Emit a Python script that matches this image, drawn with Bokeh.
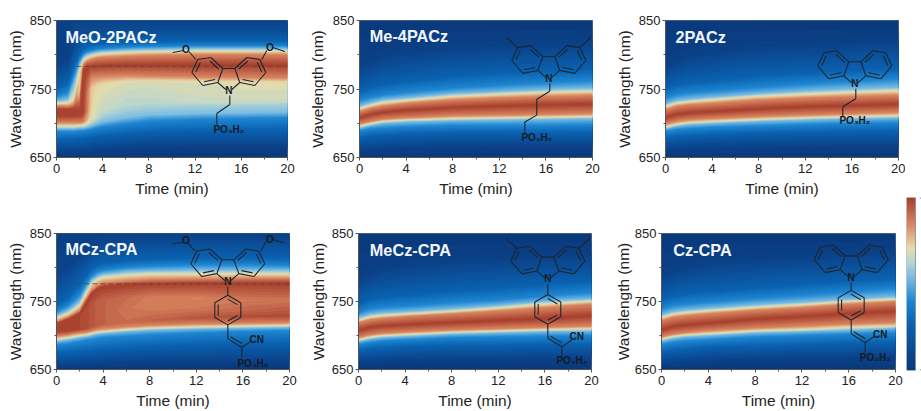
import numpy as np
from bokeh.plotting import figure
from bokeh.layouts import row, column
from bokeh.models import Label, FixedTicker, Range1d, LinearColorMapper
from bokeh.embed import file_html
from bokeh.resources import INLINE

# ---- colour scale ----
CMAP_POS = [0.0, 0.12, 0.27, 0.40, 0.54, 0.63, 0.71, 0.85, 1.0]
CMAP_HEX = ["#0a387c", "#0b4a93", "#0a62b0", "#1e86d2", "#7cbde2", "#b8d6d0", "#e8dcaa", "#d8835f", "#a63e2c"]

# ---- axes ----
X_TICKS = [0, 4, 8, 12, 16, 20]
X_MINOR = [2, 6, 10, 14, 18]
Y_TICKS = [650, 750, 850]
Y_MINOR = [700, 800]

# ---- each table row: wavelength (nm) at which the colour reaches a level, per time ----
TIMES_SIMPLE = [0, 1, 2, 4, 8, 12, 16, 20]
LEVELS_SIMPLE = [0.0, 0.05, 0.27, 0.40, 0.54, 0.71, 0.85, 1.0, 0.85, 0.71, 0.54, 0.40, 0.27, 0.05, 0.0]

ME4PACZ = [
    [650] * 8,
    [660, 661, 662, 663, 664, 665, 665, 665],
    [679, 682, 683, 685, 686, 686, 686, 686],
    [689, 692, 693, 695, 697, 697, 697, 698],
    [693, 697, 700, 702, 704, 705, 706, 707],
    [696, 700, 703, 705, 707, 708, 709, 710],
    [699, 703, 706, 708, 711, 712, 713, 714],
    [708, 713, 716, 719, 723, 725, 727, 728],
    [717, 722, 725, 729, 734, 737, 739, 741],
    [721, 726, 730, 733, 739, 742, 745, 746],
    [725, 730, 734, 737, 743, 746, 749, 751],
    [733, 738, 741, 745, 751, 755, 759, 762],
    [746, 752, 756, 761, 768, 773, 776, 779],
    [785, 791, 800, 807, 812, 815, 818, 820],
    [850] * 8,
]
PACZ2 = [
    [650] * 8,
    [660, 661, 662, 663, 664, 665, 666, 666],
    [678, 681, 682, 684, 686, 687, 688, 689],
    [688, 691, 692, 694, 696, 698, 700, 701],
    [692, 696, 698, 700, 703, 705, 707, 708],
    [695, 699, 701, 703, 706, 708, 710, 711],
    [699, 703, 705, 707, 710, 712, 714, 716],
    [708, 713, 715, 717, 721, 724, 726, 728],
    [720, 725, 727, 729, 734, 737, 739, 741],
    [724, 729, 731, 734, 739, 742, 745, 747],
    [728, 733, 735, 738, 743, 747, 750, 752],
    [737, 742, 744, 747, 752, 757, 761, 765],
    [750, 756, 759, 762, 769, 773, 777, 780],
    [785, 793, 800, 807, 814, 816, 820, 822],
    [850] * 8,
]
MECZ_CPA = [
    [650] * 8,
    [660, 661, 662, 663, 664, 664, 665, 665],
    [678, 681, 682, 684, 686, 686, 687, 687],
    [687, 690, 692, 694, 697, 698, 699, 700],
    [691, 695, 697, 699, 702, 704, 706, 707],
    [694, 698, 700, 702, 705, 707, 709, 710],
    [697, 701, 703, 705, 708, 710, 712, 714],
    [707, 712, 714, 716, 719, 722, 725, 729],
    [719, 723, 725, 728, 732, 736, 741, 746],
    [722, 727, 729, 731, 735, 740, 746, 750],
    [726, 731, 733, 735, 739, 744, 750, 754],
    [733, 739, 741, 743, 748, 752, 758, 763],
    [745, 753, 756, 759, 765, 770, 775, 780],
    [785, 793, 800, 805, 812, 815, 818, 820],
    [850] * 8,
]
CZ_CPA = [
    [650] * 8,
    [658, 659, 660, 662, 664, 665, 666, 667],
    [676, 679, 680, 683, 685, 687, 689, 690],
    [687, 690, 692, 694, 698, 700, 702, 704],
    [692, 696, 698, 700, 704, 706, 708, 711],
    [695, 699, 701, 703, 707, 709, 712, 714],
    [698, 702, 704, 707, 711, 714, 717, 719],
    [708, 713, 715, 718, 724, 728, 732, 736],
    [722, 727, 729, 732, 737, 741, 746, 750],
    [726, 731, 733, 736, 741, 745, 750, 753],
    [730, 735, 737, 740, 745, 749, 753, 757],
    [739, 744, 746, 749, 754, 759, 764, 769],
    [752, 758, 761, 764, 770, 775, 780, 785],
    [790, 797, 802, 809, 815, 818, 822, 825],
    [850] * 8,
]

TIMES_MEO = [0, 1, 1.5, 2, 2.3, 2.6, 3, 3.5, 4, 6, 8, 12, 16, 20]
MEO_2PACZ = [
    [650] * 14,
    [657, 657, 657, 658, 658, 658, 659, 660, 661, 663, 664, 665, 665, 665],
    [676, 677, 677, 678, 678, 679, 680, 681, 682, 685, 687, 689, 690, 690],
    [688, 688, 688, 689, 689, 690, 691, 693, 695, 699, 703, 706, 707, 708],
    [692, 692, 692, 693, 693, 694, 696, 699, 702, 708, 712, 714, 715, 716],
    [696, 696, 696, 697, 697, 699, 703, 708, 712, 719, 723, 725, 726, 727],
    [701, 701, 701, 701, 702, 705, 711, 716, 720, 726, 728, 730, 731, 731],
    [711, 711, 711, 712, 714, 718, 724, 728, 732, 738, 740, 742, 743, 743],
    [716, 716, 716, 717, 730, 745, 752, 755, 757, 760, 760, 760, 760, 760],
    [718, 718, 718, 725, 752, 763, 767, 768, 769, 770, 769, 768, 767, 766],
    [720, 720, 721, 745, 776, 782, 783, 784, 784, 785, 785, 785, 785, 785],
    [725, 725, 727, 770, 785, 790, 793, 795, 796, 798, 799, 800, 800, 800],
    [729, 729, 735, 777, 790, 795, 798, 800, 801, 803, 804, 805, 805, 805],
    [732, 735, 757, 786, 796, 800, 802, 804, 805, 807, 808, 809, 809, 809],
    [739, 745, 770, 793, 800, 804, 806, 808, 809, 811, 812, 813, 813, 813],
    [750, 760, 782, 802, 808, 811, 813, 815, 816, 818, 819, 820, 820, 820],
    [788, 795, 815, 825, 830, 832, 834, 835, 835, 836, 838, 838, 838, 838],
    [850] * 14,
]
MEO_2PACZ_LEVELS = [
    [0.0] * 14,
    [0.05] * 14,
    [0.27] * 14,
    [0.40] * 14,
    [0.54] * 14,
    [.71, .71, .71, .71, .71, .71, .68, .65, .62, .60, .60, .60, .60, .60],
    [.85, .85, .85, .85, .85, .80, .72, .68, .66, .63, .63, .65, .66, .66],
    [1, 1, 1, 1, 1, .88, .73, .69, .67, .65, .65, .67, .68, .68],
    [1, 1, 1, 1, 1, .90, .75, .72, .71, .69, .68, .69, .70, .70],
    [1, 1, 1, .95, 1, .95, .85, .85, .85, .85, .85, .85, .85, .85],
    [1, 1, 1, .75, 1, 1, 1, 1, 1, 1, 1, 1, 1, 1],
    [.85, .85, .85, .72, .85, .85, .85, .85, .85, .85, .85, .85, .85, .85],
    [0.71] * 14,
    [0.54] * 14,
    [0.40] * 14,
    [0.27] * 14,
    [.05, .05, .10, .12, .12, .12, .12, .12, .12, .12, .12, .12, .12, .12],
    [.05, .05, .08, .08, .08, .08, .08, .08, .08, .08, .08, .08, .08, .08],
]

TIMES_MCZ = [0, 1, 1.5, 2, 2.5, 3, 3.5, 4, 6, 8, 12, 16, 20]
MCZ_CPA = [
    [650] * 13,
    [654, 655, 655, 656, 656, 657, 657, 658, 659, 660, 660, 660, 660],
    [674, 675, 676, 677, 677, 678, 679, 680, 682, 684, 687, 688, 689],
    [686, 688, 690, 691, 693, 694, 696, 697, 699, 701, 704, 706, 707],
    [691, 694, 695, 697, 698, 700, 702, 703, 706, 708, 710, 711, 712],
    [695, 697, 699, 700, 701, 703, 705, 706, 709, 711, 713, 714, 715],
    [699, 701, 703, 704, 705, 707, 709, 710, 713, 715, 717, 718, 719],
    [706, 707, 708, 709, 710, 712, 714, 716, 719, 722, 726, 728, 728],
    [712, 715, 717, 720, 724, 728, 732, 735, 740, 742, 738, 735, 735],
    [716, 721, 724, 728, 735, 745, 750, 752, 756, 757, 755, 752, 752],
    [718, 724, 728, 733, 748, 762, 769, 772, 775, 776, 777, 777, 777],
    [720, 727, 732, 737, 752, 766, 773, 777, 780, 782, 783, 784, 784],
    [725, 732, 737, 744, 760, 775, 782, 785, 788, 790, 790, 790, 790],
    [729, 737, 743, 750, 767, 781, 787, 790, 794, 795, 796, 796, 796],
    [735, 744, 752, 760, 775, 787, 793, 796, 800, 802, 804, 804, 803],
    [745, 756, 766, 775, 787, 797, 803, 806, 810, 812, 814, 814, 814],
    [790, 800, 808, 815, 823, 830, 835, 838, 842, 845, 845, 845, 845],
    [850] * 13,
]
MCZ_CPA_LEVELS = [
    [0.0] * 13,
    [0.05] * 13,
    [0.27] * 13,
    [0.40] * 13,
    [0.54] * 13,
    [0.71] * 13,
    [0.85] * 13,
    [1, 1, 1, .98, .97, .95, .93, .92, .90, .92, .95, .97, .97],
    [1, 1, 1, .98, .97, .95, .93, .92, .88, .86, .88, .92, .95],
    [1, 1, 1, .98, .97, .95, .93, .92, .90, .87, .85, .87, .88],
    [1] * 13,
    [0.85] * 13,
    [0.71] * 13,
    [0.54] * 13,
    [0.40] * 13,
    [0.27] * 13,
    [0.08] * 13,
    [0.05] * 13,
]

# ---- labels ----
NAMES = ["MeO-2PACz", "Me-4PACz", "2PACz", "MCz-CPA", "MeCz-CPA", "Cz-CPA"]
DASH_WAVELENGTH = {"MeO-2PACz": 783, "MCz-CPA": 776}
DASH_START = 1.7


# ---- molecule sketches: pixel offsets from the carbazole N ----
RING_L = [(-11, -8), (-6, -22), (-18, -33), (-31, -31), (-37, -18), (-26, -5)]
RING_R = [(-x, y) for x, y in RING_L]


def hexagon(cx, cy, r):
    return [(cx + r * np.sin(k * np.pi / 3), cy - r * np.cos(k * np.pi / 3)) for k in range(6)]


def ring_segments(pts, pairs=(1, 3, 5)):
    cx = sum(p[0] for p in pts) / 6
    cy = sum(p[1] for p in pts) / 6
    segs = []
    for i in range(6):
        segs.append([pts[i], pts[(i + 1) % 6]])
    for i in pairs:
        a, b = pts[i], pts[(i + 1) % 6]
        f = 0.74
        ia = (cx + (a[0] - cx) * f, cy + (a[1] - cy) * f)
        ib = (cx + (b[0] - cx) * f, cy + (b[1] - cy) * f)
        segs.append([ia, ib])
    return segs


def carbazole():
    s = ring_segments(RING_L, (1, 3, 5)) + ring_segments(RING_R, (1, 3, 5))
    s += [[(-11, -8), (-3, -1)], [(11, -8), (3, -1)], [(-6, -22), (6, -22)]]
    return s


def phenyl_link(cy, r=15):
    s = [[(0, 5), (0, cy - r)]]
    s += ring_segments(hexagon(0, cy, r), (0, 2, 4))
    s += [[(0, cy + r), (0, cy + r + 14)], [(0, cy + r + 14), (14, cy + r + 23)],
          [(2.5, cy + r + 12), (14, cy + r + 19)],
          [(14, cy + r + 23), (24, cy + r + 16)], [(14, cy + r + 23), (14, cy + r + 33)]]
    return s


OME = [[(-33, -31), (-40, -39)], [(-45, -40), (-56, -38)], [(33, -31), (38, -40)], [(44, -43), (56, -39)]]
ME = [[(-31, -31), (-42, -41)], [(31, -31), (42, -41)]]

MOLECULES = {
    "MeO-2PACz": dict(n=(228.3, 90), segs=carbazole() + OME + [[(1, 5), (1, 14)], [(1, 14), (-12, 23)], [(-12, 23), (-12, 34)]],
                      texts=[("O", -43, -41), ("O", 41, -43), ("PO\u2083H\u2082", 0, 39)]),
    "Me-4PACz": dict(n=(548.3, 77.3), segs=carbazole() + ME + [[(1, 5), (1, 13)], [(1, 13), (-12, 21)], [(-12, 21), (-12, 37)], [(-12, 37), (-24, 44)], [(-24, 44), (-24, 55)]],
                     texts=[("PO\u2083H\u2082", -12, 60)]),
    "2PACz": dict(n=(854.3, 83.3), segs=carbazole() + [[(1, 5), (1, 15)], [(1, 15), (-12, 23)], [(-12, 23), (-12, 33)]],
                  texts=[("PO\u2083H\u2082", 0, 37)]),
    "MCz-CPA": dict(n=(227.3, 281.7), segs=carbazole() + OME + phenyl_link(29),
                    texts=[("O", -42, -42), ("O", 42, -43), ("CN", 29, 59), ("PO\u2083H\u2082", 25, 83)]),
    "MeCz-CPA": dict(n=(547.3, 279), segs=carbazole() + ME + phenyl_link(31),
                     texts=[("CN", 29, 59), ("PO\u2083H\u2082", 24, 83)]),
    "Cz-CPA": dict(n=(850.7, 275.7), segs=carbazole() + phenyl_link(28),
                   texts=[("CN", 29, 58), ("PO\u2083H\u2082", 24, 81)]),
}

N_BANDS = 48
TOP = 1.0005
LOWER = np.linspace(0, TOP, N_BANDS + 1)[:-1]
mids = LOWER + TOP / N_BANDS / 2


def to_hex(t):
    rgb = [int(CMAP_HEX[i][j:j + 2], 16) for i in range(len(CMAP_HEX)) for j in (1, 3, 5)]
    rgb = np.array(rgb).reshape(-1, 3)
    out = [np.interp(t, CMAP_POS, rgb[:, k]) for k in range(3)]
    return "#%02x%02x%02x" % tuple(int(round(v)) for v in out)


PALETTE = [to_hex(m) for m in mids]
FONT = "Liberation Sans"


def panel(name, times, table, levels, w, h, left, top, right, bottom, ystand):
    fw, fh = w - left - right, h - top - bottom
    p = figure(width=w, height=h, output_backend="svg", toolbar_location=None,
               x_range=Range1d(0, 20), y_range=Range1d(650, 850),
               min_border_left=left, min_border_right=right, min_border_top=top, min_border_bottom=bottom,
               x_axis_label="Time (min)", y_axis_label="Wavelength (nm)")
    p.grid.visible = False
    p.outline_line_color = "#5a6a80"
    p.outline_line_width = 1
    p.border_fill_color = None
    p.background_fill_color = "#0a387c"

    ys = np.array(table, dtype=float)
    zs = np.array(levels, dtype=float)
    xs = np.tile(np.array(times, dtype=float), (ys.shape[0], 1))
    # nested fills, painted from the lowest level up, leave no seams between the bands
    for low, col in zip(LOWER, PALETTE):
        p.contour(xs, ys, zs, [float(low), TOP], fill_color=col, line_color=None)

    if name in DASH_WAVELENGTH:
        p.line([DASH_START, 20], [DASH_WAVELENGTH[name]] * 2, line_color="#55453f",
               line_dash="5 3", line_width=1, line_alpha=0.8)

    for ax, major, minor in ((p.xaxis[0], X_TICKS, X_MINOR), (p.yaxis[0], Y_TICKS, Y_MINOR)):
        ax.ticker = FixedTicker(ticks=major, minor_ticks=minor)
        ax.major_tick_in = 0
        ax.major_tick_out = 3
        ax.minor_tick_in = 0
        ax.minor_tick_out = 2
        ax.axis_line_color = "#555555"
        ax.major_tick_line_color = "#555555"
        ax.minor_tick_line_color = "#555555"
        ax.major_label_text_font = FONT
        ax.major_label_text_font_size = "13px"
        ax.major_label_text_color = "#222222"
        ax.axis_label_text_font = FONT
        ax.axis_label_text_font_size = "15.5px"
        ax.axis_label_text_font_style = "normal"
        ax.axis_label_text_color = "#222222"
    p.xaxis[0].major_label_standoff = 3
    p.xaxis[0].axis_label_standoff = 4
    p.yaxis[0].major_label_standoff = 2
    p.yaxis[0].axis_label_standoff = ystand
    p.yaxis[0].major_label_orientation = "horizontal"
    return p, fw, fh


def add_overlays(p, name, page_left, page_top, fw, fh, name_xy):
    def dx(px):
        return (px - page_left) / fw * 20

    def dy(py):
        return 850 - (py - page_top) / fh * 200

    m = MOLECULES[name]
    nx, ny = m["n"]
    p.multi_line([[dx(nx + a[0]), dx(nx + b[0])] for a, b in m["segs"]],
                 [[dy(ny + a[1]), dy(ny + b[1])] for a, b in m["segs"]],
                 line_color="#1c2530", line_width=1.1)
    p.add_layout(Label(x=dx(nx), y=dy(ny), text="N", text_font=FONT, text_font_size="10px",
                       text_font_style="bold", text_color="#141a22", text_align="center", text_baseline="middle"))
    for txt, ox, oy in m["texts"]:
        p.add_layout(Label(x=dx(nx + ox), y=dy(ny + oy), text=txt, text_font=FONT, text_font_size="10px",
                           text_font_style="bold", text_color="#141a22", text_align="center", text_baseline="middle"))
    p.add_layout(Label(x=dx(name_xy[0]), y=dy(name_xy[1]), text=name, text_font=FONT, text_font_size="16.3px",
                       text_font_style="bold", text_color="#f2f6fa", text_align="left", text_baseline="middle"))


SPEC = [
    ("MeO-2PACz", TIMES_MEO, MEO_2PACZ, MEO_2PACZ_LEVELS, 300, 205, 56, 20, 13, 48, 3, 0, 0, (65, 36)),
    ("Me-4PACz", TIMES_SIMPLE, ME4PACZ, None, 310, 205, 59, 19, 18, 48, 4, 300, 0, (369.3, 35)),
    ("2PACz", TIMES_SIMPLE, PACZ2, None, 295, 205, 55, 20, 7, 48, 3, 610, 0, (675, 36)),
    ("MCz-CPA", TIMES_MCZ, MCZ_CPA, MCZ_CPA_LEVELS, 300, 206, 56, 28, 11, 40, 3, 0, 205, (65, 249)),
    ("MeCz-CPA", TIMES_SIMPLE, MECZ_CPA, None, 310, 206, 58, 28, 19, 40, 2, 300, 205, (369.3, 250)),
    ("Cz-CPA", TIMES_SIMPLE, CZ_CPA, None, 295, 206, 51, 26, 10, 42, 0, 610, 205, (672.7, 248)),
]

figs = []
for name, t, tab, lev, w, h, l, tp, r_, b, ys_, px0, py0, nxy in SPEC:
    if lev is None:
        lev = [[v] * len(t) for v in LEVELS_SIMPLE]
    fig, fw, fh = panel(name, t, tab, lev, w, h, l, tp, r_, b, ys_)
    add_overlays(fig, name, px0 + l, py0 + tp, fw, fh, nxy)
    figs.append(fig)

# colour bar (x 905..921, y 0..411 on the page)
cb = figure(width=16, height=411, output_backend="svg", toolbar_location=None,
            x_range=Range1d(0, 15), y_range=Range1d(0, 1),
            min_border_left=1, min_border_right=0, min_border_top=197, min_border_bottom=41)
cb.axis.visible = False
cb.grid.visible = False
cb.outline_line_color = None
cb.border_fill_color = None
cb.background_fill_color = None
mapper = LinearColorMapper(palette=[to_hex(v) for v in np.linspace(0, 1, 256)], low=0, high=1)
cb.image(image=[np.linspace(0, 1, 256).reshape(-1, 1)], x=0, y=0, dw=9, dh=1, color_mapper=mapper)
cb.quad(left=[0], right=[9], bottom=[0], top=[1], fill_color=None, line_color="#7a8a9a", line_width=0.8)
cb.segment(x0=[13, 13], x1=[15, 15], y0=[0.003, 0.997], y1=[0.003, 0.997], line_color="#777777", line_width=1)

left_block = column(row(*figs[:3], spacing=0), row(*figs[3:], spacing=0), spacing=0)
page = row(left_block, cb, spacing=0)
open("out.html", "w").write(file_html(page, INLINE))
